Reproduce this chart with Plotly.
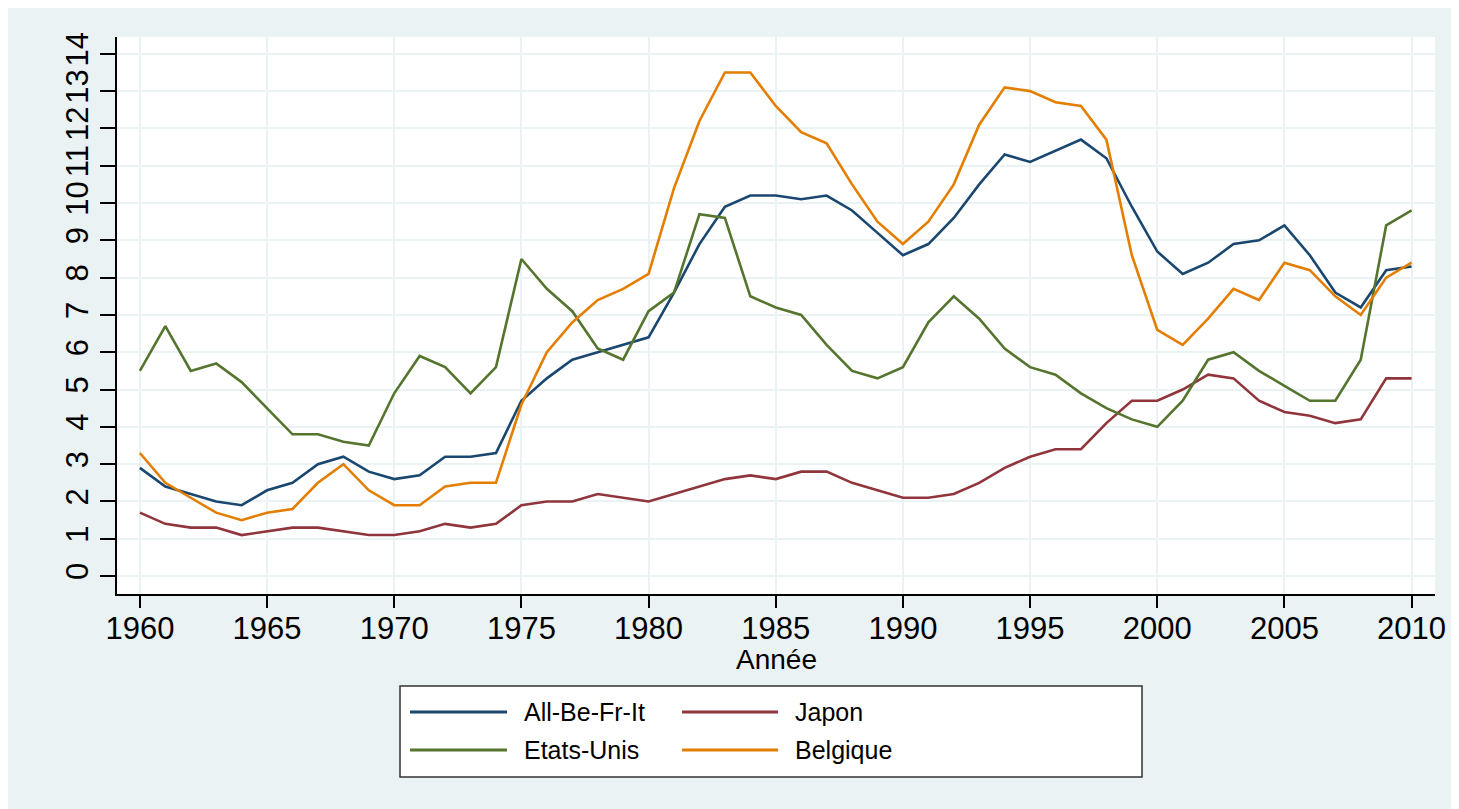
import plotly.graph_objects as go

# Data
years = list(range(1960, 2011))

all_be_fr_it = [2.9, 2.4, 2.2, 2.0, 1.9, 2.3, 2.5, 3.0, 3.2, 2.8,
                2.6, 2.7, 3.2, 3.2, 3.3, 4.7, 5.3, 5.8, 6.0, 6.2,
                6.4, 7.6, 8.9, 9.9, 10.2, 10.2, 10.1, 10.2, 9.8, 9.2,
                8.6, 8.9, 9.6, 10.5, 11.3, 11.1, 11.4, 11.7, 11.2, 9.9,
                8.7, 8.1, 8.4, 8.9, 9.0, 9.4, 8.6, 7.6, 7.2, 8.2,
                8.3]
japon = [1.7, 1.4, 1.3, 1.3, 1.1, 1.2, 1.3, 1.3, 1.2, 1.1,
         1.1, 1.2, 1.4, 1.3, 1.4, 1.9, 2.0, 2.0, 2.2, 2.1,
         2.0, 2.2, 2.4, 2.6, 2.7, 2.6, 2.8, 2.8, 2.5, 2.3,
         2.1, 2.1, 2.2, 2.5, 2.9, 3.2, 3.4, 3.4, 4.1, 4.7,
         4.7, 5.0, 5.4, 5.3, 4.7, 4.4, 4.3, 4.1, 4.2, 5.3,
         5.3]
etats_unis = [5.5, 6.7, 5.5, 5.7, 5.2, 4.5, 3.8, 3.8, 3.6, 3.5,
              4.9, 5.9, 5.6, 4.9, 5.6, 8.5, 7.7, 7.1, 6.1, 5.8,
              7.1, 7.6, 9.7, 9.6, 7.5, 7.2, 7.0, 6.2, 5.5, 5.3,
              5.6, 6.8, 7.5, 6.9, 6.1, 5.6, 5.4, 4.9, 4.5, 4.2,
              4.0, 4.7, 5.8, 6.0, 5.5, 5.1, 4.7, 4.7, 5.8, 9.4,
              9.8]
belgique = [3.3, 2.5, 2.1, 1.7, 1.5, 1.7, 1.8, 2.5, 3.0, 2.3,
            1.9, 1.9, 2.4, 2.5, 2.5, 4.6, 6.0, 6.8, 7.4, 7.7,
            8.1, 10.4, 12.2, 13.5, 13.5, 12.6, 11.9, 11.6, 10.5, 9.5,
            8.9, 9.5, 10.5, 12.1, 13.1, 13.0, 12.7, 12.6, 11.7, 8.6,
            6.6, 6.2, 6.9, 7.7, 7.4, 8.4, 8.2, 7.5, 7.0, 8.0,
            8.4]

series_names = ["All-Be-Fr-It", "Japon", "Etats-Unis", "Belgique"]
series_values = [all_be_fr_it, japon, etats_unis, belgique]
series_colors = ["#1A476F", "#90353B", "#55752F", "#E37E00"]

x_ticks = list(range(1960, 2011, 5))
y_ticks = list(range(0, 15))

OFF = 8  # page body margin
W, H = 1459 - OFF, 809 - OFF
L, R, T, B = 117 - OFF, 1435 - OFF, 37 - OFF, 594 - OFF
BG = "#EAF2F3"
FONT = "Liberation Sans, Arial, sans-serif"


# screen pixel -> paper coords
def px(x):
    return (x - OFF - L) / (R - L)


def py(y):
    return (B - (y - OFF)) / (B - T)


fig = go.Figure()
for name, vals, col in zip(series_names, series_values, series_colors):
    fig.add_trace(go.Scatter(x=years, y=vals, mode="lines", name=name,
                             line=dict(color=col, width=2.6)))

shapes = [
    dict(type="rect", xref="paper", yref="paper", x0=px(400), x1=px(1142), y0=py(777), y1=py(686),
         fillcolor="white", line=dict(color="#333333", width=1.5), layer="above"),
]
annotations = [
    dict(xref="paper", yref="paper", x=0.5, y=py(659), text="Année", showarrow=False,
         xanchor="center", yanchor="middle", font=dict(family=FONT, size=28, color="black")),
]

# hand-made legend, 2 columns
leg_pos = [(410, 507, 522, 712), (682, 778, 793, 712), (410, 507, 522, 750), (682, 778, 793, 750)]
for (x0, x1, xt, yy), name, col in zip(leg_pos, series_names, series_colors):
    shapes.append(dict(type="line", xref="paper", yref="paper", x0=px(x0), x1=px(x1),
                       y0=py(yy), y1=py(yy), line=dict(color=col, width=2.8), layer="above"))
    annotations.append(dict(xref="paper", yref="paper", x=px(xt), y=py(yy), text=name,
                            showarrow=False, xanchor="left", yanchor="middle",
                            font=dict(family=FONT, size=25, color="black")))

fig.update_layout(
    width=W, height=H,
    margin=dict(l=L, r=W - R, t=T, b=H - B),
    paper_bgcolor=BG,
    plot_bgcolor="white",
    showlegend=False,
    shapes=shapes,
    annotations=annotations,
    xaxis=dict(
        range=[1959.1, 2010.92], tickmode="array", tickvals=x_ticks,
        ticks="outside", ticklen=12, tickwidth=1.5, tickcolor="black",
        showline=True, linecolor="black", linewidth=1.5,
        showgrid=True, gridcolor=BG, gridwidth=2, zeroline=False,
        tickfont=dict(family=FONT, size=31, color="black"),
        ticklabelstandoff=-6,
    ),
    yaxis=dict(
        range=[-0.48, 14.45], tickmode="array", tickvals=y_ticks,
        ticks="outside", ticklen=15, tickwidth=1.5, tickcolor="black",
        showline=True, linecolor="black", linewidth=1.5,
        showgrid=True, gridcolor=BG, gridwidth=2, zeroline=False,
        tickangle=-90,
        tickfont=dict(family=FONT, size=31, color="black"),
    ),
)

fig.write_html("out.html")
